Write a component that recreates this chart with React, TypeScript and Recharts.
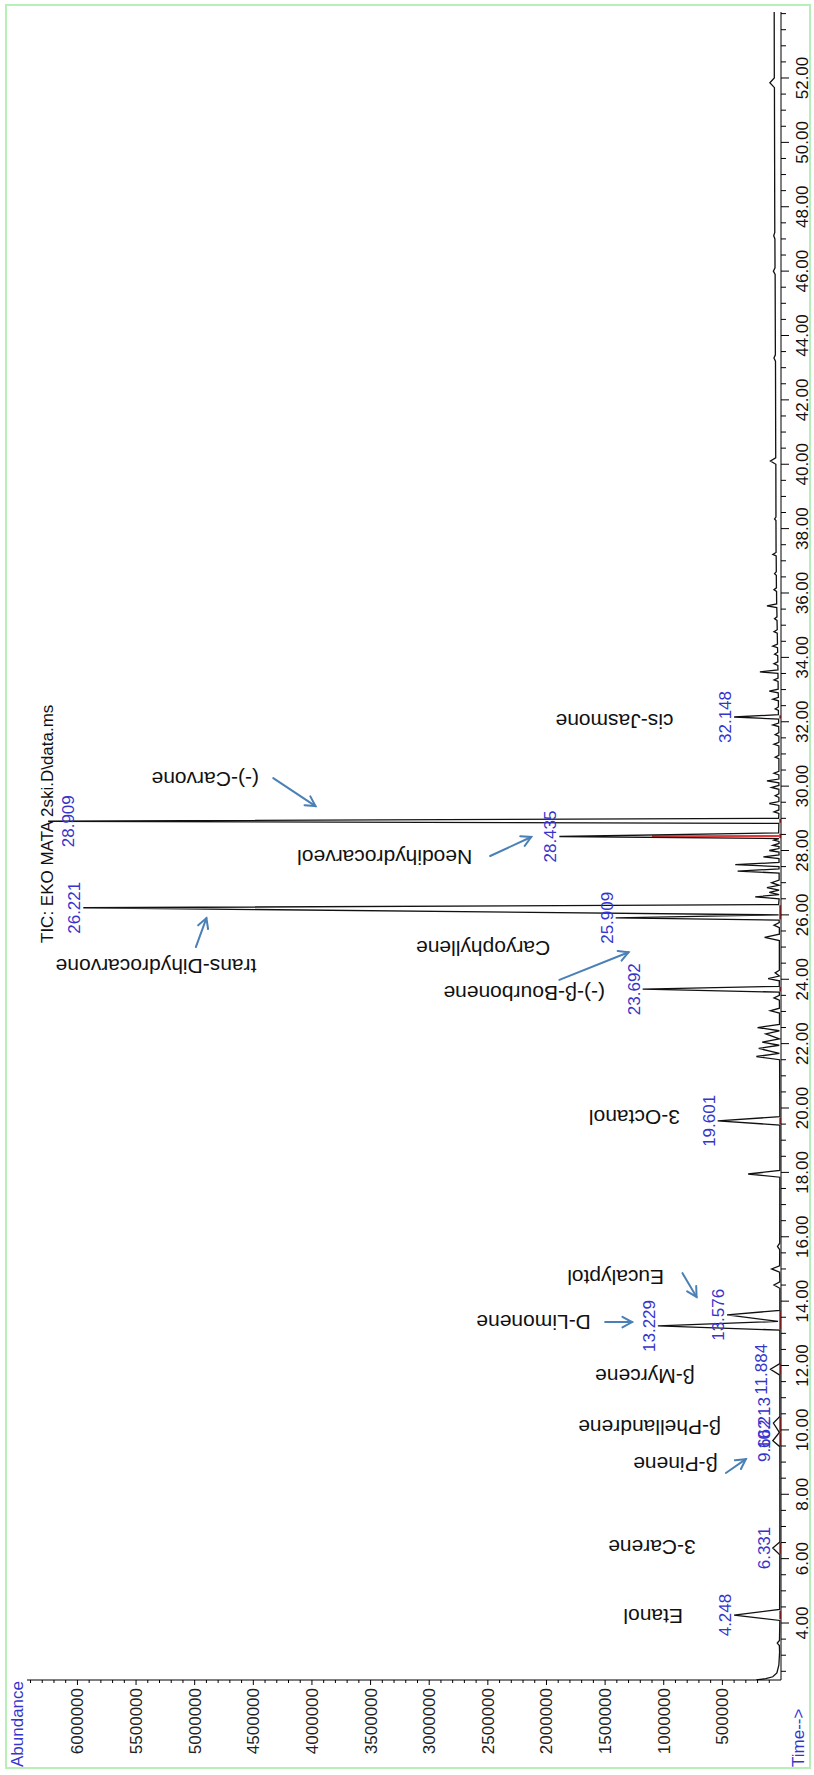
import { ComposedChart, Line, XAxis, YAxis, Scatter, ReferenceLine } from "recharts"

// chromatogram trace, [time (min), abundance]
const solventTail: [number, number][] = [
    [2.23, 210000], [2.27, 130000], [2.33, 70000], [2.45, 35000], [2.7, 18000], [3.1, 12000],
    [3.3, 14000], [3.38, 32000], [3.46, 13000], [4.08, 10000],
]
const earlyPeaks: [number, number][] = [
    [4.248, 400000], [4.42, 12000],
    [6.12, 10000], [6.331, 70000], [6.52, 10000],
    [9.48, 10000], [9.662, 70000], [9.92, 14000], [10.213, 65000], [10.42, 10000],
    [11.7, 10000], [11.884, 90000], [12.06, 10000],
    [13.1, 10000], [13.229, 1050000], [13.37, 25000], [13.576, 460000], [13.71, 10000],
    [14.4, 10000], [14.5, 60000], [14.6, 10000], [14.9, 12000], [15.0, 80000], [15.1, 12000],
    [15.6, 11000], [15.7, 30000], [15.8, 11000],
]
const midPeaks: [number, number][] = [
    [17.85, 10000], [17.95, 280000], [18.06, 10000],
    [19.47, 10000], [19.601, 540000], [19.73, 10000],
    [21.5, 12000], [21.6, 210000], [21.7, 14000], [21.85, 190000], [21.95, 15000], [22.05, 160000],
    [22.15, 14000], [22.3, 130000], [22.4, 14000], [22.5, 200000], [22.6, 13000],
    [22.95, 13000], [23.02, 90000], [23.1, 13000],
    [23.35, 14000], [23.42, 60000], [23.5, 14000],
    [23.6, 14000], [23.692, 1180000], [23.78, 15000], [23.95, 14000], [24.02, 110000], [24.1, 14000],
    [24.2, 50000], [24.28, 14000],
    [25.2, 14000], [25.3, 140000], [25.4, 14000], [25.6, 14000], [25.68, 60000], [25.76, 15000],
    [25.84, 16000], [25.909, 1410000], [26.0, 20000], [26.221, 5950000], [26.32, 20000],
    [26.5, 16000], [26.56, 220000], [26.63, 16000], [26.7, 100000], [26.77, 16000],
    [26.85, 120000], [26.92, 16000], [27.0, 80000], [27.08, 16000],
    [27.3, 16000], [27.36, 370000], [27.43, 17000], [27.5, 17000], [27.56, 390000], [27.63, 17000],
    [27.75, 17000], [27.8, 150000], [27.86, 17000], [27.95, 17000], [28.0, 100000], [28.06, 17000],
    [28.12, 17000], [28.16, 70000], [28.22, 17000], [28.28, 17000], [28.32, 60000], [28.37, 18000],
    [28.435, 1890000], [28.55, 20000],
    [28.84, 18000], [28.909, 6250000], [29.0, 20000],
]
const latePeaks: [number, number][] = [
    [29.15, 18000], [29.2, 60000], [29.26, 18000], [29.4, 18000], [29.46, 100000], [29.52, 18000],
    [29.65, 18000], [29.7, 50000], [29.76, 18000], [29.9, 18000], [29.96, 80000], [30.02, 18000],
    [30.1, 18000], [30.16, 120000], [30.22, 18000], [30.35, 18000], [30.4, 60000], [30.46, 18000],
    [30.85, 18000], [30.9, 50000], [30.96, 18000], [31.25, 18000], [31.3, 60000], [31.36, 18000],
    [31.55, 18000], [31.6, 50000], [31.66, 18000], [31.85, 20000], [31.9, 70000], [31.96, 20000],
    [32.08, 20000], [32.148, 400000], [32.22, 22000],
    [32.35, 22000], [32.4, 50000], [32.46, 22000], [32.65, 22000], [32.7, 70000], [32.76, 22000],
    [32.9, 24000], [32.95, 100000], [33.01, 24000], [33.25, 25000], [33.3, 60000], [33.36, 25000],
    [33.5, 26000], [33.55, 180000], [33.61, 26000], [33.75, 27000], [33.8, 60000], [33.86, 27000],
    [34.05, 28000], [34.1, 55000], [34.16, 28000], [34.3, 30000], [34.35, 70000], [34.41, 30000],
    [34.75, 32000], [34.8, 60000], [34.86, 32000], [35.15, 34000], [35.2, 55000], [35.26, 34000],
    [35.55, 36000], [35.6, 120000], [35.66, 37000], [36.05, 38000], [36.1, 60000], [36.16, 39000],
    [36.55, 40000], [36.6, 55000], [36.66, 40000], [37.15, 41000], [37.2, 70000], [37.26, 42000],
    [38.25, 43000], [38.3, 55000], [38.36, 43000], [40.0, 44000], [40.1, 90000], [40.2, 45000],
    [43.2, 47000], [43.3, 60000], [43.4, 48000], [45.9, 50000], [46.0, 65000], [46.1, 51000],
    [47.0, 52000], [47.1, 62000], [47.2, 53000], [51.7, 56000], [51.85, 95000], [52.0, 57000],
    [54.05, 58000],
]

// integrated peaks (blue retention time labels)
const labelTimes = [4.248, 6.331, 9.662, 10.213, 11.884, 13.229, 13.576, 19.601, 23.692, 25.909, 26.221, 28.435, 28.909, 32.148]
const labelTexts = ["4.248", "6.331", "9.662", "10.213", "11.884", "13.229", "13.576", "19.601", "23.692", "25.909", "26.221", "28.435", "28.909", "32.148"]

// red integration baselines [start, end]
const integrationMarks: [number, number][] = [
    [4.12, 4.38], [6.15, 6.5], [9.5, 9.9], [9.92, 10.4], [11.72, 12.05], [13.12, 13.7],
    [19.5, 19.7], [23.62, 23.76], [25.86, 26.3], [28.38, 28.52], [28.86, 28.98], [32.1, 32.2],
]

// compound names, placed at [time, abundance]
const compoundNames = ["Etanol", "3-Carene", "β-Pinene", "β-Phellandrene", "β-Myrcene", "D-Limonene", "Eucalyptol",
    "3-Octanol", "(-)-β-Bourbonene", "Caryophyllene", "trans-Dihydrocarvone", "Neodihydrocarveol", "(-)-Carvone", "cis-Jasmone"]
const nameTimes = [4.19, 6.36, 8.91, 10.09, 11.67, 13.35, 14.75, 19.72, 23.57, 24.97, 24.4, 27.77, 30.22, 32.02]
const nameAbund = [1090000, 1100000, 900000, 1120000, 1160000, 2110000, 1410000, 1250000, 2190000, 2540000, 5330000, 3380000, 4910000, 1420000]

// arrows [tail time, tail abundance, head time, head abundance]
const arrows: [number, number, number, number][] = [
    [8.66, 470000, 9.09, 300000],
    [13.35, 1500000, 13.35, 1270000],
    [14.87, 840000, 14.13, 720000],
    [23.98, 1890000, 24.84, 1300000],
    [25.0, 4990000, 25.9, 4900000],
    [27.83, 2480000, 28.42, 2130000],
    [30.25, 4330000, 29.38, 3970000],
]

const timeLabelValues = [4, 6, 8, 10, 12, 14, 16, 18, 20, 22, 24, 26, 28, 30, 32, 34, 36, 38, 40, 42, 44, 46, 48, 50, 52]
const abundanceLabelValues = [500000, 1000000, 1500000, 2000000, 2500000, 3000000, 3500000, 4000000, 4500000, 5000000, 5500000, 6000000]

const trace = [...solventTail, ...earlyPeaks, ...midPeaks, ...latePeaks].map(([t, a]) => ({ t, a }))
const peakLabels = labelTimes.map((t, i) => ({ t, a: trace.find((p) => p.t === t)?.a ?? 0, text: labelTexts[i] }))
const nameData = compoundNames.map((name, i) => ({ t: nameTimes[i], a: nameAbund[i], name }))

const timeTicks = Array.from({ length: 104 }, (_, i) => 2.5 + i * 0.5)
const abundanceTicks = Array.from({ length: 64 }, (_, i) => (i + 1) * 100000)

const FONT = "Arial, 'Liberation Sans', sans-serif"
const BLUE = "#3535cc"

function TimeTick(props: any) {
    const { x, y, payload } = props
    const v = payload.value
    const major = timeLabelValues.includes(v)
    return (
        <g>
            <line x1={x} y1={y} x2={x} y2={y + (major ? 8 : 5)} stroke="#000" />
            {major && (
                <text x={x} y={y + 27} textAnchor="middle" fontSize={17} fontFamily={FONT} fill="#111">
                    {v.toFixed(2)}
                </text>
            )}
        </g>
    )
}

function AbundanceTick(props: any) {
    const { x, y, payload } = props
    const v = payload.value
    const major = abundanceLabelValues.includes(v)
    return (
        <g>
            <line x1={x} y1={y} x2={x - (major ? 5 : 3)} y2={y} stroke="#000" />
            {major && (
                <text x={x - 8} y={y} dy="0.35em" textAnchor="end" fontSize={17} fontFamily={FONT} fill="#222">
                    {v}
                </text>
            )}
        </g>
    )
}

function PeakLabel(props: any) {
    const { cx, cy, payload } = props
    const y = Math.max(cy - 3, 74)
    return (
        <text x={cx} y={y} textAnchor="middle" fontSize={17} fontFamily={FONT} fill={BLUE}>
            {payload.text}
        </text>
    )
}

function CompoundName(props: any) {
    const { cx, cy, payload } = props
    return (
        <text x={cx} y={cy} transform={`rotate(-90 ${cx} ${cy})`} textAnchor="middle" dominantBaseline="central"
            fontSize={21} fontFamily={FONT} fill="#111">
            {payload.name}
        </text>
    )
}

function ArrowShape(props: any) {
    const { x1, y1, x2, y2 } = props
    const ang = Math.atan2(y2 - y1, x2 - x1)
    const len = 11
    const p1 = [x2 - len * Math.cos(ang - 0.5), y2 - len * Math.sin(ang - 0.5)]
    const p2 = [x2 - len * Math.cos(ang + 0.5), y2 - len * Math.sin(ang + 0.5)]
    return (
        <g stroke="#4a80b5" strokeWidth={2} fill="none" strokeLinecap="round">
            <line x1={x1} y1={y1} x2={x2} y2={y2} />
            <polyline points={`${p1[0]},${p1[1]} ${x2},${y2} ${p2[0]},${p2[1]}`} />
        </g>
    )
}

export default function App() {
    return (
        <div style={{ position: "absolute", left: 0, top: 0, width: 814, height: 1775, overflow: "hidden", background: "#fff" }}>
            {/* drawn as a normal chromatogram, then turned a quarter to the left */}
            <div style={{ position: "absolute", left: 0, top: 0, width: 1775, height: 814, transform: "translateY(1775px) rotate(-90deg)", transformOrigin: "0 0", fontFamily: FONT }}>
                <div style={{ position: "absolute", left: 6, top: 5, width: 1761, height: 802, border: "2px solid #b8eeb8" }} />
                <div style={{ position: "absolute", left: 8, top: 8, fontSize: 17, color: BLUE }}>Abundance</div>
                <div style={{ position: "absolute", left: 8, top: 789, fontSize: 17, color: BLUE }}>Time--&gt;</div>
                <div style={{ position: "absolute", left: 832, top: 38, fontSize: 17, color: "#111", whiteSpace: "nowrap" }}>TIC: EKO MATA 2ski.D\data.ms</div>
                <div style={{ position: "absolute", left: 0, top: 0 }}>
                    <ComposedChart width={1775} height={814} data={trace} margin={{ top: 27, right: 12, bottom: 0, left: 0 }}>
                        <XAxis dataKey="t" type="number" domain={[2.23, 54.05]} allowDataOverflow ticks={timeTicks} interval={0}
                            height={33} tickSize={0} tickMargin={0} tickLine={false} axisLine={{ stroke: "#000" }} tick={TimeTick} />
                        <YAxis type="number" domain={[0, 6430000]} allowDataOverflow ticks={abundanceTicks} interval={0}
                            width={95} tickSize={0} tickMargin={0} tickLine={false} axisLine={{ stroke: "#000" }} tick={AbundanceTick} />
                        {integrationMarks.map(([s, e], i) => (
                            <ReferenceLine key={`m${i}`} segment={[{ x: s, y: 8000 }, { x: e, y: 8000 }]} stroke="#e03a3a" strokeWidth={2} ifOverflow="visible" />
                        ))}
                        <ReferenceLine segment={[{ x: 28.45, y: 10000 }, { x: 28.44, y: 1100000 }]} stroke="#e03a3a" strokeWidth={2} ifOverflow="visible" />
                        <Line dataKey="a" type="linear" stroke="#111" strokeWidth={1.3} dot={false} isAnimationActive={false} />
                        {arrows.map(([t1, a1, t2, a2], i) => (
                            <ReferenceLine key={`a${i}`} segment={[{ x: t1, y: a1 }, { x: t2, y: a2 }]} shape={ArrowShape} ifOverflow="visible" />
                        ))}
                        <Scatter data={peakLabels} dataKey="a" shape={PeakLabel} isAnimationActive={false} />
                        <Scatter data={nameData} dataKey="a" shape={CompoundName} isAnimationActive={false} />
                    </ComposedChart>
                </div>
            </div>
        </div>
    )
}
